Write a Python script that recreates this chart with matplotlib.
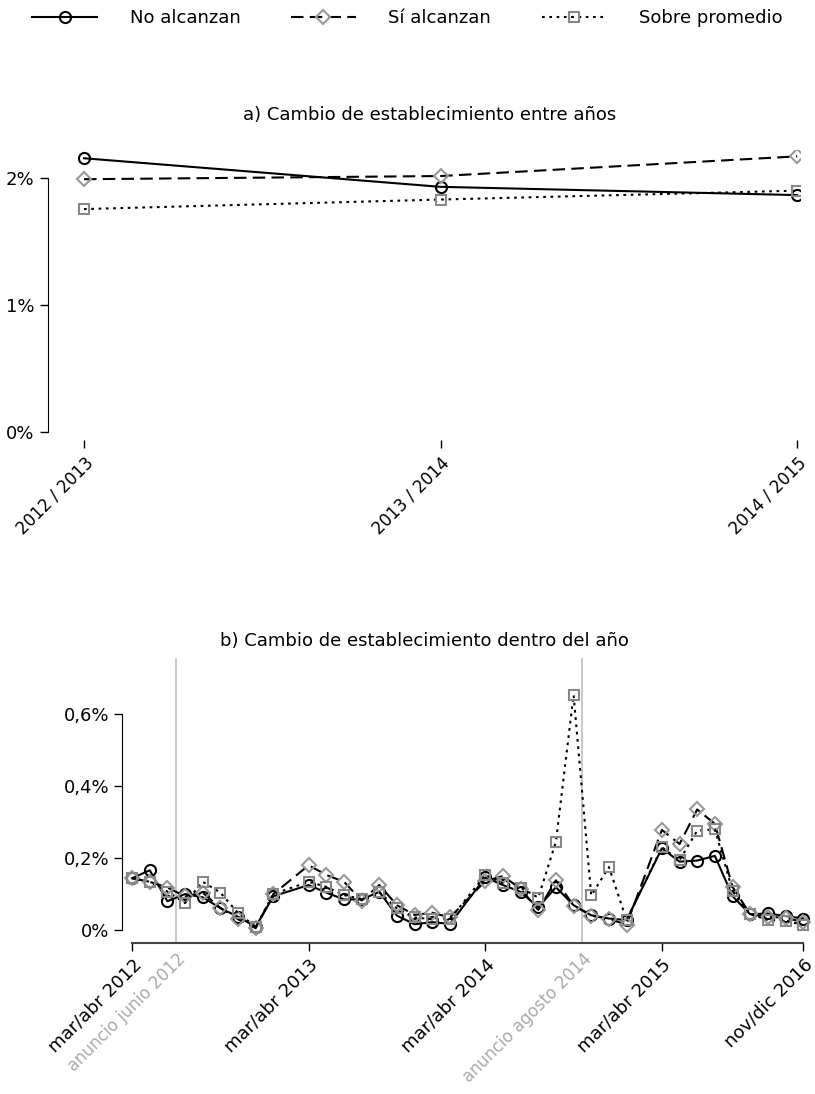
import matplotlib
matplotlib.use('Agg')
import matplotlib.pyplot as plt
from matplotlib.ticker import FuncFormatter
from matplotlib.transforms import ScaledTranslation

plt.rcParams['font.family'] = ['DejaVu Sans']
plt.rcParams['font.size'] = 13

# a) between years
periodos_anuales = ['2012 / 2013', '2013 / 2014', '2014 / 2015']
no_alc_anual = [2.155, 1.93, 1.865]
si_alc_anual = [1.99, 2.015, 2.17]
sobre_anual = [1.755, 1.83, 1.90]

# b) within year (bimonthly changes mar/abr .. nov/dic, 2012-2015)
anios = [2012, 2013, 2014, 2015]
bimestres = ['mar/abr', 'abr/may', 'may/jun', 'jun/jul', 'jul/ago',
             'ago/sep', 'sep/oct', 'oct/nov', 'nov/dic']
no_alc = [0.144, 0.166, 0.080, 0.100, 0.091, 0.061, 0.037, 0.009, 0.094,
          0.125, 0.104, 0.085, 0.085, 0.106, 0.040, 0.016, 0.022, 0.017,
          0.146, 0.125, 0.106, 0.063, 0.119, 0.069, 0.041, 0.032, 0.028,
          0.227, 0.190, 0.193, 0.206, 0.094, 0.044, 0.046, 0.039, 0.032]
si_alc = [0.144, 0.134, 0.118, 0.094, 0.104, 0.061, 0.030, 0.005, 0.100,
          0.180, 0.153, 0.134, 0.082, 0.125, 0.069, 0.042, 0.048, 0.035,
          0.136, 0.150, 0.115, 0.056, 0.138, 0.068, 0.040, 0.031, 0.015,
          0.278, 0.239, 0.335, 0.295, 0.120, 0.044, 0.037, 0.034, 0.022]
sobre = [0.144, 0.134, 0.107, 0.075, 0.134, 0.104, 0.047, 0.009, 0.100,
         0.134, 0.120, 0.097, 0.086, 0.105, 0.060, 0.035, 0.030, 0.030,
         0.153, 0.130, 0.118, 0.090, 0.245, 0.653, 0.096, 0.175, 0.028,
         0.230, 0.194, 0.276, 0.280, 0.109, 0.044, 0.028, 0.026, 0.014]
ticks_b = [0, 10, 20, 30, 38]
ticks_b_labels = ['mar/abr 2012', 'mar/abr 2013', 'mar/abr 2014',
                  'mar/abr 2015', 'nov/dic 2016']
anuncios = [2.5, 25.5]
anuncios_labels = ['anuncio junio 2012', 'anuncio agosto 2014']

# one slot per bimonthly change, with a gap between school years
pos = [10 * i + k for i in range(len(anios)) for k in range(len(bimestres))]

W, H = 815, 1094
fig = plt.figure(figsize=(W / 100, H / 100), dpi=100)


def px_axes(x0, y0, x1, y1):
    return fig.add_axes([x0 / W, 1 - y1 / H, (x1 - x0) / W, (y1 - y0) / H])


styles = [
    dict(color='black', ls='-', marker='o', mec='black', label='No alcanzan'),
    dict(color='black', ls=(0, (6, 3)), marker='D', mec='#999999', label='Sí alcanzan'),
    dict(color='black', ls=(0, (1.3, 2.2)), marker='s', mec='#888888', label='Sobre promedio'),
]
common = dict(lw=1.5, mfc='none', mew=1.5)
msizes = [8, 7, 7.5]

# ---- top chart
ax1 = px_axes(48, 150, 800, 440)
for vals, st, ms in zip([no_alc_anual, si_alc_anual, sobre_anual], styles, msizes):
    ax1.plot(range(3), vals, ms=ms, **st, **common)
ax1.set_xlim(-0.101, 2.008)
ax1.set_ylim(-0.063, 2.22)
ax1.set_yticks([0, 1, 2])
ax1.yaxis.set_major_formatter(FuncFormatter(lambda v, p: f'{v:.0f}%'))
ax1.set_xticks(range(3))
ax1.set_xticklabels(periodos_anuales, rotation=45, ha='right', va='top',
                    rotation_mode='anchor', fontsize=12)
shift = ScaledTranslation(9 / 100, 0, fig.dpi_scale_trans)
for lab in ax1.get_xticklabels():
    lab.set_transform(lab.get_transform() + shift)
for s in ['top', 'right', 'bottom']:
    ax1.spines[s].set_visible(False)
ax1.spines['left'].set_bounds(0, 2)
ax1.tick_params(length=6, width=1, pad=4)

# ---- bottom chart
ax2 = px_axes(122, 655, 812, 943)
for x in anuncios:
    ax2.axvline(x, ymax=0.985, color='#c4c4c4', lw=1.3, zorder=0)
for vals, st, ms in zip([no_alc, si_alc, sobre], styles, msizes):
    ax2.plot(pos, vals, ms=ms, **st, **common)
ax2.set_xlim(-0.57, 38.5)
ax2.set_ylim(-0.036, 0.764)
ax2.set_yticks([0, 0.2, 0.4, 0.6])
ax2.yaxis.set_major_formatter(
    FuncFormatter(lambda v, p: '0%' if v == 0 else f'{v:.1f}%'.replace('.', ',')))
ax2.set_xticks(ticks_b)
ax2.set_xticklabels(ticks_b_labels, rotation=45, ha='right', va='top',
                    rotation_mode='anchor')
ax2.set_xticks(anuncios, minor=True)
ax2.set_xticklabels(anuncios_labels, minor=True, rotation=45, ha='right',
                    va='top', rotation_mode='anchor', color='#aaaaaa',
                    fontsize=12)
ax2.tick_params(axis='x', which='minor', length=0, pad=5)
for s in ['top', 'right']:
    ax2.spines[s].set_visible(False)
ax2.spines['left'].set_bounds(0, 0.6)
ax2.spines['bottom'].set_bounds(0, 38)
ax2.spines['bottom'].set_color('#444444')
ax2.spines['bottom'].set_linewidth(1.5)
ax2.tick_params(which='major', length=6, width=1, pad=3)

fig.text(430 / W, 1 - 115 / H, 'a) Cambio de establecimiento entre años',
         ha='center', va='center')
fig.text(424 / W, 1 - 641 / H, 'b) Cambio de establecimiento dentro del año',
         ha='center', va='center')

handles, labels = ax1.get_legend_handles_labels()
fig.legend(handles, labels, loc='center', bbox_to_anchor=(0.5, 1 - 18 / H),
           ncol=3, frameon=False, handlelength=3.6, columnspacing=2.8,
           handletextpad=1.8)

fig.savefig('out.png', dpi=100)
